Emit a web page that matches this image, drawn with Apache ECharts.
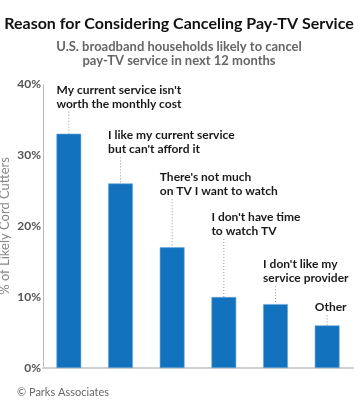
<!DOCTYPE html>
<html><head><meta charset="utf-8">
<script src="https://cdn.jsdelivr.net/npm/echarts@6/dist/echarts.min.js"></script>
<style>html,body{margin:0;padding:0;background:#fff}#c{width:358px;height:401px}</style>
</head><body><div id="c"></div>
<script>
var categories = ["My current service isn't\nworth the monthly cost","I like my current service\nbut can't afford it","There's not much\non TV I want to watch","I don't have time\nto watch TV","I don't like my\nservice provider","Other"];
var values = [33, 26, 17, 10, 9, 6];
var yTicks = [0, 10, 20, 30, 40];
var labelGap = [30, 34, 56, 66, 26, 18];

var FONT = 'Lato';
var chart = echarts.init(document.getElementById('c'), null, {renderer:'canvas'});
chart.setOption({
  animation:false,
  title:[
    {text:'Reason for Considering Canceling Pay-TV Service', left:'center', top:11,
     textStyle:{fontFamily:FONT, fontWeight:'bold', fontSize:16, color:'#111'}},
    {text:'U.S. broadband households likely to cancel\npay-TV service in next 12 months', left:'center', top:35,
     textStyle:{fontFamily:FONT, fontWeight:'bold', fontSize:13, color:'#666', lineHeight:14}},
    {text:'© Parks Associates', left:12, top:382,
     textStyle:{fontFamily:FONT, fontWeight:'normal', fontSize:11, color:'#666'}}
  ],
  grid:{left:43, right:5, top:84, bottom:33, containLabel:false, outerBoundsMode:'none'},
  xAxis:{type:'category', data:categories, axisLabel:{show:false}, axisTick:{show:false},
    axisLine:{lineStyle:{color:'#d0d0d0', width:2}}},
  yAxis:{type:'value', min:yTicks[0], max:yTicks[yTicks.length-1], interval:10,
    name:'% of Likely Cord Cutters', nameLocation:'middle', nameGap:32, nameRotate:90, nameMoveOverlap:false,
    nameTextStyle:{fontFamily:FONT, fontSize:13, color:'#888'},
    axisLine:{show:true, lineStyle:{color:'#aaa', type:'dotted', width:1}},
    axisTick:{show:false}, splitLine:{show:false},
    axisLabel:{formatter:'{value}%', fontFamily:FONT, fontWeight:'bold', fontSize:12, color:'#555', margin:2}},
  series:[
    {type:'bar', data:values, barWidth:'48%', z:2,
     itemStyle:{color:'#1372bd', borderColor:'#6aa8dc', borderWidth:0.6}},
    {type:'custom', data:values.map(function(v,i){return [i,v];}), z:3,
     renderItem:function(params, api){
       var i = api.value(0), v = api.value(1);
       var pt = api.coord([i, v]);
       var bw = api.size([1,0])[0]*0.48;
       var left = pt[0]-bw/2;
       var lastCenter = pt[1]-labelGap[i];
       var children = [];
       children.push({type:'text', style:{text:categories[i], x:left, y:lastCenter+7,
         verticalAlign:'bottom', align:'left', font:'bold 12px '+FONT, fill:'#1a1a1a', lineHeight:14}});
       children.push({type:'line', shape:{x1:pt[0], y1:lastCenter+8, x2:pt[0], y2:pt[1]},
         style:{stroke:'#999', lineWidth:1, lineDash:[1,2]}});
       return {type:'group', children:children};
     }}
  ]
});
</script></body></html>
